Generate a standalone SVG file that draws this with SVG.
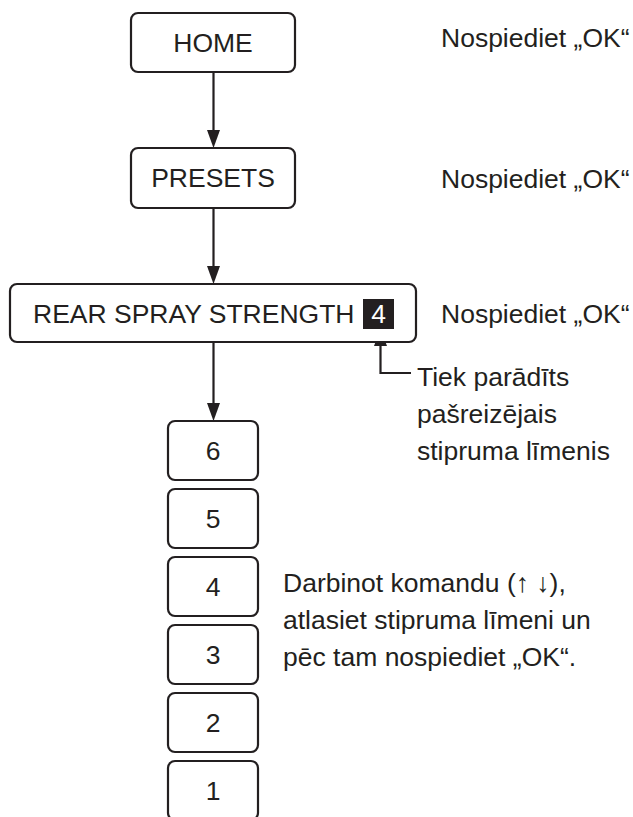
<svg xmlns="http://www.w3.org/2000/svg" width="633" height="817" viewBox="0 0 633 817">
<style>
.box{fill:#fff;stroke:#231f20;stroke-width:2.2}
.t{font-family:"Liberation Sans",Arial,"DejaVu Sans",sans-serif;font-size:26.5px;fill:#231f20}
.c{text-anchor:middle}
.ln{stroke:#231f20;stroke-width:2.2;fill:none}
.ah{fill:#231f20}
</style>
<rect width="633" height="817" fill="#fff"/>
<g id="connectors">
<line class="ln" x1="213.5" y1="72" x2="213.5" y2="132"/>
<polygon class="ah" points="207,130 220,130 213.5,148"/>
<line class="ln" x1="213.5" y1="208" x2="213.5" y2="268"/>
<polygon class="ah" points="207,266 220,266 213.5,284"/>
<line class="ln" x1="213.5" y1="342" x2="213.5" y2="405"/>
<polygon class="ah" points="207,403 220,403 213.5,421"/>
<polyline class="ln" points="411,373 380.5,373 380.5,344"/>
<polygon class="ah" points="374,346 387,346 380.5,329"/>
</g>
<g id="home">
<rect class="box" x="131" y="13" width="164" height="59" rx="7"/>
<text class="t c" x="213" y="52">HOME</text>
</g>
<g id="presets">
<rect class="box" x="131" y="148" width="164" height="60" rx="7"/>
<text class="t c" x="213" y="187">PRESETS</text>
</g>
<g id="rear">
<rect class="box" x="10" y="284" width="406" height="58" rx="7"/>
<text class="t" x="33" y="323">REAR SPRAY STRENGTH</text>
<rect x="363" y="299" width="31" height="30" fill="#231f20"/>
<text class="t c" x="378.5" y="323" style="fill:#fff">4</text>
</g>
<g id="note-ok1"><text class="t" x="441" y="47">Nospiediet „OK“</text></g>
<g id="note-ok2"><text class="t" x="441" y="188">Nospiediet „OK“</text></g>
<g id="note-ok3"><text class="t" x="441" y="323">Nospiediet „OK“</text></g>
<g id="note-current">
<text class="t" x="417" y="386">Tiek parādīts</text>
<text class="t" x="417" y="423">pašreizējais</text>
<text class="t" x="417" y="460">stipruma līmenis</text>
</g>
<g id="level6"><rect class="box" x="168" y="421" width="90" height="59" rx="7"/><text class="t c" x="213" y="460">6</text></g>
<g id="level5"><rect class="box" x="168" y="489" width="90" height="59" rx="7"/><text class="t c" x="213" y="528">5</text></g>
<g id="level4"><rect class="box" x="168" y="557" width="90" height="59" rx="7"/><text class="t c" x="213" y="596">4</text></g>
<g id="level3"><rect class="box" x="168" y="625" width="90" height="59" rx="7"/><text class="t c" x="213" y="664">3</text></g>
<g id="level2"><rect class="box" x="168" y="693" width="90" height="59" rx="7"/><text class="t c" x="213" y="732">2</text></g>
<g id="level1"><rect class="box" x="168" y="761" width="90" height="59" rx="7"/><text class="t c" x="213" y="800">1</text></g>
<g id="note-select">
<text class="t" x="283" y="592">Darbinot komandu (↑ ↓),</text>
<text class="t" x="283" y="629">atlasiet stipruma līmeni un</text>
<text class="t" x="283" y="666">pēc tam nospiediet „OK“.</text>
</g>
</svg>
